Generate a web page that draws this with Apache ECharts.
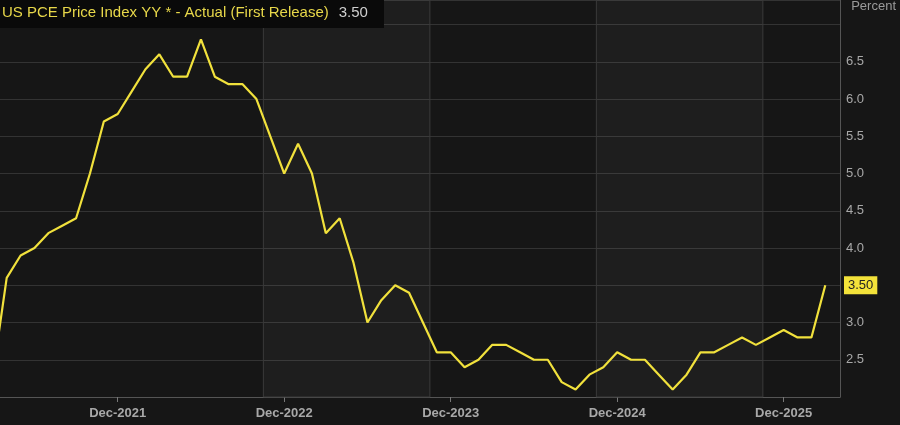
<!DOCTYPE html>
<html>
<head>
<meta charset="utf-8">
<script src="https://cdn.jsdelivr.net/npm/echarts@6/dist/echarts.min.js"></script>
<style>
  html, body { margin: 0; background: #161616; }
  #chart { width: 900px; height: 425px; }
</style>
</head>
<body>
<div id="chart"></div>
<script>
// months from Mar-2021 to Mar-2026, index 0 = Mar-2021
const startYear = 2021, startMonth = 2
const pce = [
  2.3, 3.6, 3.9, 4.0, 4.2, 4.3, 4.4, 5.0, 5.7, 5.8,      // Mar-Dec 2021
  6.1, 6.4, 6.6, 6.3, 6.3, 6.8, 6.3, 6.2, 6.2, 6.0, 5.5, 5.0, // 2022
  5.4, 5.0, 4.2, 4.4, 3.8, 3.0, 3.3, 3.5, 3.4, 3.0, 2.6, 2.6, // 2023
  2.4, 2.5, 2.7, 2.7, 2.6, 2.5, 2.5, 2.2, 2.1, 2.3, 2.4, 2.6, // 2024
  2.5, 2.5, 2.3, 2.1, 2.3, 2.6, 2.6, 2.7, 2.8, 2.7, 2.8, 2.9, // 2025
  2.8, 2.8, 3.5                                              // 2026
]
const tickIdx = [9, 21, 33, 45, 57]
const bandEdges = [[19.5, 31.5], [43.5, 55.5]]
const yTicks = [2.5, 3.0, 3.5, 4.0, 4.5, 5.0, 5.5, 6.0, 6.5]
const lastValue = pce[pce.length - 1]

const monthNames = ['Jan','Feb','Mar','Apr','May','Jun','Jul','Aug','Sep','Oct','Nov','Dec']
function idxLabel (i) {
  const m = startMonth + i
  return monthNames[m % 12] + '-' + (startYear + Math.floor(m / 12))
}

const chart = echarts.init(document.getElementById('chart'))
const option = {
  backgroundColor: '#161616',
  animation: false,
  title: {
    text: '{a|US PCE Price Index YY * - Actual (First Release)}  {b|' + lastValue.toFixed(2) + '}',
    left: 0, top: 0,
    padding: [4, 16, 6, 2],
    backgroundColor: '#0a0a0a',
    textStyle: {
      rich: {
        a: { color: '#e8d84a', fontSize: 15, fontFamily: 'Arial', fontWeight: 'normal' },
        b: { color: '#cfcfcf', fontSize: 15, fontFamily: 'Arial', fontWeight: 'normal' }
      }
    }
  },
  graphic: [{
    type: 'text', right: 4, top: 0,
    style: { text: 'Percent', fill: '#9a9a9a', font: '13px Arial' }
  }],
  grid: { left: 0, right: 60, top: 0, bottom: 28 },
  xAxis: {
    type: 'value',
    min: 0.517, max: 61.06,
    splitLine: { show: false },
    axisLine: { show: true, lineStyle: { color: '#555' } },
    axisTick: { show: true, customValues: tickIdx, length: 5, lineStyle: { color: '#777' } },
    axisLabel: {
      customValues: tickIdx,
      formatter: v => idxLabel(Math.round(v)),
      color: '#a8a8a8', fontSize: 13, fontFamily: 'Arial', fontWeight: 'bold', margin: 10
    }
  },
  yAxis: [{
    type: 'value', position: 'right',
    min: 2.0, max: 7.33, interval: 0.5,
    axisLine: { show: true, lineStyle: { color: '#555' } },
    axisTick: { show: false },
    splitLine: { lineStyle: { color: '#333', width: 1 } },
    axisLabel: {
      customValues: yTicks,
      formatter: v => v.toFixed(1),
      color: '#a8a8a8', fontSize: 13, fontFamily: 'Arial', margin: 6
    }
  }, {
    type: 'value', position: 'right',
    min: 2.0, max: 7.33,
    axisLine: { show: false }, axisTick: { show: false }, splitLine: { show: false },
    axisLabel: {
      customValues: [lastValue],
      formatter: v => v.toFixed(2),
      color: '#222', backgroundColor: '#f3e23a',
      padding: [3, 4, 2, 4], fontSize: 13, fontFamily: 'Arial', margin: 4
    }
  }],
  series: [{
    type: 'line',
    data: pce.map((v, i) => [i, v]),
    symbol: 'none',
    lineStyle: { color: '#f1e13c', width: 2.2 },
    markArea: {
      silent: true,
      itemStyle: { color: 'rgba(255,255,255,0.035)', borderColor: '#3a3a3a', borderWidth: 1 },
      data: bandEdges.map(b => [{ xAxis: b[0] }, { xAxis: b[1] }])
    },
    z: 3
  }]
}
chart.setOption(option)
</script>
</body>
</html>
